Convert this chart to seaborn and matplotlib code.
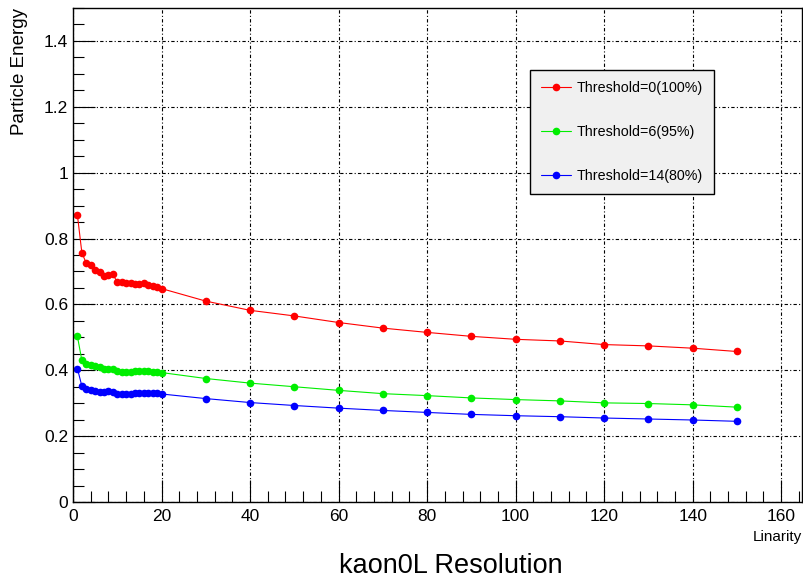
import pandas as pd
import matplotlib.pyplot as plt
import seaborn as sns
from matplotlib.ticker import MultipleLocator

# x positions (1..20 step 1, then 30..150 step 10)
x_vals = list(range(1, 21)) + list(range(30, 151, 10))

red_vals = [0.871, 0.757, 0.725, 0.720, 0.703, 0.698, 0.687, 0.688, 0.691, 0.668,
            0.667, 0.666, 0.664, 0.663, 0.661, 0.664, 0.660, 0.657, 0.654, 0.648,
            0.610, 0.582, 0.565, 0.545, 0.528, 0.515, 0.503,
            0.494, 0.489, 0.478, 0.474, 0.467, 0.457]
green_vals = [0.503, 0.430, 0.420, 0.415, 0.412, 0.409, 0.405, 0.403, 0.405, 0.397,
              0.396, 0.396, 0.396, 0.397, 0.398, 0.399, 0.398, 0.396, 0.395, 0.393,
              0.375, 0.361, 0.350, 0.339, 0.329, 0.323, 0.316,
              0.311, 0.307, 0.301, 0.299, 0.295, 0.288]
blue_vals = [0.405, 0.352, 0.344, 0.341, 0.337, 0.334, 0.335, 0.336, 0.333, 0.328,
             0.328, 0.329, 0.329, 0.330, 0.331, 0.332, 0.332, 0.331, 0.330, 0.328,
             0.314, 0.302, 0.293, 0.285, 0.278, 0.272, 0.266,
             0.262, 0.259, 0.255, 0.252, 0.249, 0.245]

labels = ['Threshold=0(100%)', 'Threshold=6(95%)', 'Threshold=14(80%)']
colors = ['#ff0000', '#00ee00', '#0000ff']

df = pd.concat([
    pd.DataFrame({'x': x_vals, 'y': vals, 'series': lab})
    for vals, lab in zip([red_vals, green_vals, blue_vals], labels)
])

sns.set_style('white')
plt.rcParams['font.family'] = ['Liberation Sans', 'DejaVu Sans']
plt.rcParams['text.color'] = 'black'

fig = plt.figure(figsize=(8.04, 5.81), dpi=100)
ax = fig.add_axes([73/804, 1 - 502/581, 729/804, 494/581])

sns.lineplot(data=df, x='x', y='y', hue='series', palette=colors,
             marker='o', markersize=5.5, markeredgewidth=0, linewidth=0.8,
             ax=ax, sort=False)

ax.set_xlim(0, 164.7)
ax.set_ylim(0, 1.5)
ax.xaxis.set_major_locator(MultipleLocator(20))
ax.xaxis.set_minor_locator(MultipleLocator(4))
ax.yaxis.set_major_locator(MultipleLocator(0.2))
ax.yaxis.set_minor_locator(MultipleLocator(0.05))
ax.yaxis.set_major_formatter(lambda v, p: '0' if v == 0 else ('1' if abs(v - 1) < 1e-9 else f'{v:.1f}'))

ax.tick_params(axis='both', which='both', direction='in', top=False, right=False,
               left=True, bottom=True, labelsize=12.5, color='black', labelcolor='black')
ax.tick_params(axis='both', which='major', length=16, width=0.8)
ax.tick_params(axis='both', which='minor', length=8, width=0.8)
ax.tick_params(axis='x', pad=5)

ax.grid(True, which='major', color='black', linestyle=(0, (3, 2, 1, 2)), linewidth=0.8)
for s in ax.spines.values():
    s.set_color('black')
    s.set_linewidth(1.0)

ax.set_xlabel('')
ax.set_ylabel('')
fig.text(20/804, 1 - 8/581, 'Particle Energy', rotation=90, ha='center', va='top', fontsize=13.5)
fig.text(802/804, 1 - 530/581, 'Linarity', ha='right', va='top', fontsize=11)
fig.text(451/804, 1 - 566/581, 'kaon0L Resolution', ha='center', va='center', fontsize=19.5)

leg = ax.legend(loc='upper left', bbox_to_anchor=(0.627, 0.874), fontsize=10.3,
                frameon=True, fancybox=False, framealpha=1, facecolor='#f0f0f0',
                edgecolor='black', labelspacing=2.1, handlelength=2.1,
                handletextpad=0.4, borderpad=0.75, borderaxespad=0, title=None)
leg.get_frame().set_linewidth(1.0)
for t in leg.get_texts():
    t.set_color('black')

plt.savefig('out.png', dpi=100)
